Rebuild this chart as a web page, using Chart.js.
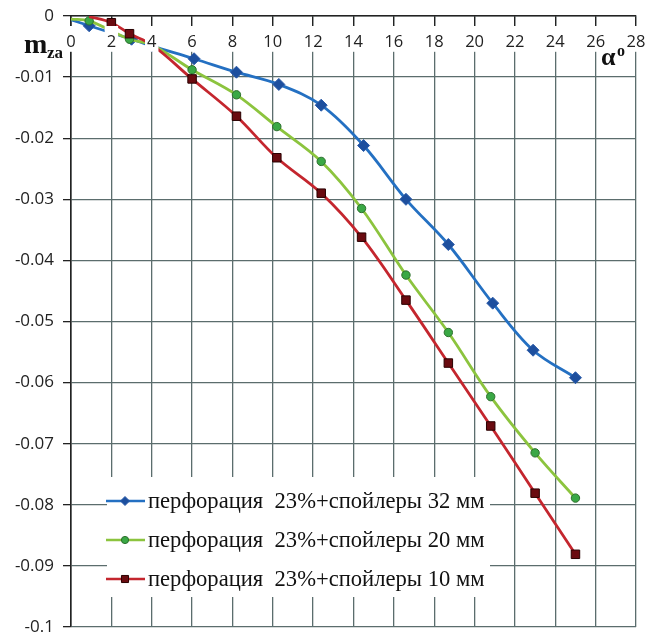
<!DOCTYPE html>
<html>
<head>
<meta charset="utf-8">
<script src="https://cdn.jsdelivr.net/npm/chart.js@4.4.1/dist/chart.umd.min.js"></script>
<style>
  html, body { margin: 0; padding: 0; background: #ffffff; }
  #wrap { width: 658px; height: 634px; position: relative; }
</style>
</head>
<body>
<div id="wrap"><canvas id="chart" width="658" height="634"></canvas></div>
<script>
// Series names (legend)
const seriesNames = [
  'перфорация  23%+спойлеры 32 мм',
  'перфорация  23%+спойлеры 20 мм',
  'перфорация  23%+спойлеры 10 мм'
];

// Angle of attack, degrees, and moment coefficient m_za for each configuration
const angles32 = [0, 0.9, 3.0, 4.0, 6.1, 8.2, 10.3, 12.4, 14.5, 16.6, 18.7, 20.9, 22.9, 25.0];
const mza32    = [-0.0006, -0.0016, -0.0038, -0.0049, -0.0070, -0.0092, -0.0112, -0.0146, -0.0212, -0.0300, -0.0374, -0.0470, -0.0547, -0.0592];

const angles20 = [0, 0.9, 2.9, 4.0, 6.0, 8.2, 10.2, 12.4, 14.4, 16.6, 18.7, 20.8, 23.0, 25.0];
const mza20    = [-0.0005, -0.0008, -0.0038, -0.0047, -0.0088, -0.0129, -0.0181, -0.0238, -0.0315, -0.0424, -0.0518, -0.0623, -0.0715, -0.0789];

const angles10 = [0.9, 2.0, 2.9, 4.0, 6.0, 8.2, 10.2, 12.4, 14.4, 16.6, 18.7, 20.8, 23.0, 25.0];
const mza10    = [-0.0001, -0.0011, -0.0029, -0.0047, -0.0103, -0.0164, -0.0232, -0.0290, -0.0362, -0.0465, -0.0568, -0.0671, -0.0781, -0.0881];

// Axis ticks
const xTicks = [0, 2, 4, 6, 8, 10, 12, 14, 16, 18, 20, 22, 24, 26, 28];
const yTicks = [0, -0.01, -0.02, -0.03, -0.04, -0.05, -0.06, -0.07, -0.08, -0.09, -0.1];
const yTickLabels = ['0', '-0.01', '-0.02', '-0.03', '-0.04', '-0.05', '-0.06', '-0.07', '-0.08', '-0.09', '-0.1'];

const toPoints = (xs, ys) => xs.map((x, i) => ({ x: x, y: ys[i] }));

const GRID = '#5b6d6d';
const AXIS = '#222222';

// Legend panel and axis symbols drawn over the plot
const decorations = {
  id: 'decorations',
  afterDraw(chart) {
    const ctx = chart.ctx;
    const helpers = Chart.helpers;
    ctx.save();

    // legend panel
    const box = { x: 107, y: 477, w: 383, h: 120 };
    ctx.fillStyle = '#ffffff';
    ctx.fillRect(box.x, box.y, box.w, box.h);
    chart.data.datasets.forEach((ds, i) => {
      const cy = 501 + i * 39;
      ctx.strokeStyle = ds.borderColor;
      ctx.lineWidth = 2.5;
      ctx.beginPath();
      ctx.moveTo(106, cy);
      ctx.lineTo(145, cy);
      ctx.stroke();
      ctx.fillStyle = ds.pointBackgroundColor;
      ctx.strokeStyle = ds.pointBorderColor;
      ctx.lineWidth = 1;
      helpers.drawPoint(ctx, {
        pointStyle: ds.pointStyle,
        radius: ds.legendRadius,
        borderWidth: 1,
        rotation: 0
      }, 125, cy);
      ctx.fillStyle = '#111111';
      ctx.font = '22.6px "Liberation Serif", serif';
      ctx.textBaseline = 'middle';
      ctx.textAlign = 'left';
      ctx.fillText(ds.label, 148, cy + 1);
    });

    // axis symbols
    ctx.fillStyle = '#111111';
    ctx.textBaseline = 'alphabetic';
    ctx.textAlign = 'left';
    ctx.font = 'bold 28px "Liberation Serif", serif';
    ctx.fillText('m', 24, 53);
    ctx.font = 'bold 17px "Liberation Serif", serif';
    ctx.fillText('za', 47, 58);
    ctx.font = 'bold 26px "Liberation Serif", serif';
    ctx.fillText('α', 601, 65);
    ctx.font = 'bold 16px "Liberation Serif", serif';
    ctx.fillText('o', 617, 56);
    ctx.restore();
  }
};

const ctx = document.getElementById('chart').getContext('2d');
new Chart(ctx, {
  type: 'line',
  data: {
    datasets: [
      {
        label: seriesNames[0],
        data: toPoints(angles32, mza32),
        borderColor: '#2470c2',
        borderWidth: 2.8,
        pointStyle: 'rectRot',
        pointRadius: c => (c.dataIndex === 0 ? 0 : 6),
        legendRadius: 4.5,
        pointBackgroundColor: '#1d4f9e',
        pointBorderColor: '#2a5aa8',
        pointBorderWidth: 1,
        tension: 0.35,
        order: 3
      },
      {
        label: seriesNames[1],
        data: toPoints(angles20, mza20),
        borderColor: '#8cc43e',
        borderWidth: 2.8,
        pointStyle: 'circle',
        pointRadius: c => (c.dataIndex === 0 ? 0 : 4.2),
        legendRadius: 3.6,
        pointBackgroundColor: '#3aa845',
        pointBorderColor: '#2c6e2c',
        pointBorderWidth: 1,
        tension: 0.35,
        order: 2
      },
      {
        label: seriesNames[2],
        data: toPoints(angles10, mza10),
        borderColor: '#c4262e',
        borderWidth: 2.8,
        pointStyle: 'rect',
        pointRadius: c => (c.dataIndex === 0 ? 0 : 6),
        legendRadius: 5,
        pointBackgroundColor: '#6a0b10',
        pointBorderColor: '#2a0000',
        pointBorderWidth: 1,
        tension: 0.35,
        order: 1
      }
    ]
  },
  options: {
    responsive: false,
    animation: false,
    events: [],
    layout: { padding: { left: 0, right: 22, top: 16, bottom: 7 } },
    plugins: {
      legend: { display: false },
      tooltip: { enabled: false }
    },
    scales: {
      x: {
        type: 'linear',
        position: { y: 0 },
        min: 0,
        max: 28,
        afterBuildTicks: s => { s.ticks = xTicks.map(v => ({ value: v })); },
        afterFit: s => { s.paddingLeft = 0; s.paddingRight = 0; s.paddingTop = 0; s.paddingBottom = 0; },
        grid: { color: GRID, lineWidth: 1.3, tickLength: 10, tickColor: AXIS, tickWidth: 1.3 },
        border: { color: AXIS, width: 1.6 },
        ticks: {
          z: 1,
          maxRotation: 0,
          autoSkip: false,
          padding: 6,
          color: '#222222',
          font: { family: "'Open Sans', sans-serif", size: 16.5 },
          callback: v => String(v),
          showLabelBackdrop: true,
          backdropColor: '#ffffff',
          backdropPadding: { top: 6, bottom: 0, left: 2, right: 2 }
        }
      },
      y: {
        type: 'linear',
        position: 'left',
        min: -0.1,
        max: 0,
        afterBuildTicks: s => { s.ticks = yTicks.map(v => ({ value: v })); },
        afterFit: s => { s.width = 71; s.paddingTop = 0; s.paddingBottom = 0; },
        grid: { color: GRID, lineWidth: 1.3, tickLength: 8, tickColor: AXIS, tickWidth: 1.3 },
        border: { color: AXIS, width: 1.6 },
        ticks: {
          padding: 9,
          color: '#222222',
          font: { family: "'Open Sans', sans-serif", size: 17 },
          autoSkip: false,
          callback: (v, i) => yTickLabels[i]
        }
      }
    }
  },
  plugins: [decorations]
});
</script>
</body>
</html>
